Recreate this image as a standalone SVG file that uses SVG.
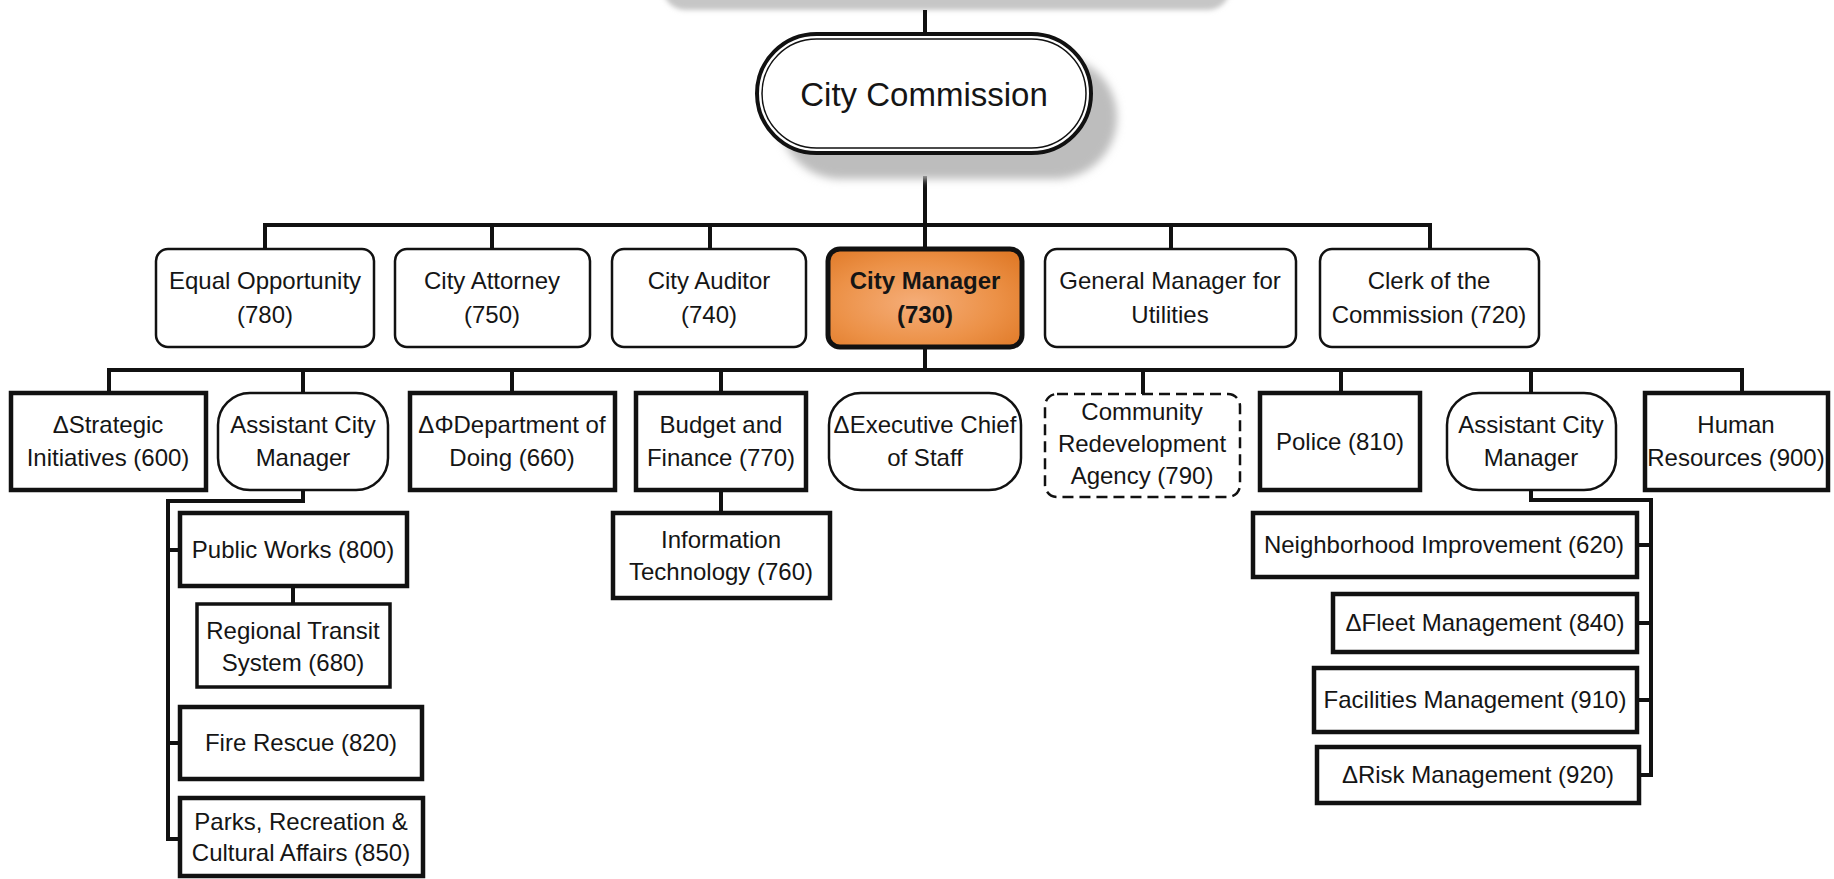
<svg xmlns="http://www.w3.org/2000/svg" width="1834" height="879" viewBox="0 0 1834 879">
<defs>
<style>
.t{font-family:"Liberation Sans",Arial,sans-serif;font-size:24px;fill:#151515;text-anchor:middle}
.b{font-weight:bold}
.rr{fill:#fff;stroke:#111;stroke-width:2.5}
.sq{fill:#fff;stroke:#111;stroke-width:4.5}
.sq3{fill:#fff;stroke:#111;stroke-width:3.5}
.dash{fill:#fff;stroke:#111;stroke-width:2.5;stroke-dasharray:11 6}
.conn{fill:none;stroke:#111;stroke-width:4;stroke-linejoin:miter;stroke-linecap:butt}
</style>
<filter id="blur" x="-20%" y="-40%" width="140%" height="180%"><feGaussianBlur stdDeviation="4"/></filter>
<filter id="blur2" x="-20%" y="-100%" width="140%" height="300%"><feGaussianBlur stdDeviation="2.5"/></filter>
<radialGradient id="orange" cx="0.45" cy="0.55" r="0.7">
<stop offset="0" stop-color="#f5ad78"/>
<stop offset="0.6" stop-color="#ec9147"/>
<stop offset="1" stop-color="#e07a28"/>
</radialGradient>
</defs>
<rect width="1834" height="879" fill="#fff"/>
<rect x="663" y="-50" width="567" height="60" rx="22" fill="#c6c6c6" filter="url(#blur2)"/>

<g id="connectors">
<path class="conn" d="M925 10V33"/>
<path class="conn" d="M925 176V249"/>
<path class="conn" d="M265 249V225H1430V249"/>
<path class="conn" d="M492 225V249M710 225V249M1171 225V249"/>
<path class="conn" d="M925 348V370"/>
<path class="conn" d="M109 393V370H1742V393"/>
<path class="conn" d="M303 370V393M512 370V393M721 370V393M1143 370V394M1341 370V393M1531 370V393"/>
<path class="conn" d="M303 490V501H168V839H180M168 550H180M168 743H180"/>
<path class="conn" d="M293 586V604"/>
<path class="conn" d="M721 490V513"/>
<path class="conn" d="M1531 490V500H1651V775H1639M1651 545H1637M1651 623H1637M1651 700H1637"/>
</g>

<g id="n-commission">
<rect x="779" y="56" width="338" height="123" rx="61.5" fill="#bdbdbd" filter="url(#blur)"/>
<rect x="757" y="34" width="334" height="119" rx="59.5" fill="#fff" stroke="#111" stroke-width="4"/>
<rect x="762" y="39" width="324" height="109" rx="54.5" fill="none" stroke="#111" stroke-width="1.5"/>
<text class="t" x="924" y="106" style="font-size:33px">City Commission</text>
</g>

<g id="n-equal"><rect class="rr" x="156" y="249" width="218" height="98" rx="12"/><text class="t" x="265" y="289">Equal Opportunity</text><text class="t" x="265" y="323">(780)</text></g>
<g id="n-attorney"><rect class="rr" x="395" y="249" width="195" height="98" rx="12"/><text class="t" x="492" y="289">City Attorney</text><text class="t" x="492" y="323">(750)</text></g>
<g id="n-auditor"><rect class="rr" x="612" y="249" width="194" height="98" rx="12"/><text class="t" x="709" y="289">City Auditor</text><text class="t" x="709" y="323">(740)</text></g>
<g id="n-manager"><rect x="828" y="249" width="194" height="98" rx="12" fill="url(#orange)" stroke="#111" stroke-width="5"/><text class="t b" x="925" y="289">City Manager</text><text class="t b" x="925" y="323">(730)</text></g>
<g id="n-gmu"><rect class="rr" x="1045" y="249" width="251" height="98" rx="12"/><text class="t" x="1170" y="289">General Manager for</text><text class="t" x="1170" y="323">Utilities</text></g>
<g id="n-clerk"><rect class="rr" x="1320" y="249" width="219" height="98" rx="12"/><text class="t" x="1429" y="289">Clerk of the</text><text class="t" x="1429" y="323">Commission (720)</text></g>

<g id="n-strategic"><rect class="sq" x="11" y="393" width="195" height="97"/><text class="t" x="108" y="433">ΔStrategic</text><text class="t" x="108" y="466">Initiatives (600)</text></g>
<g id="n-acm-left"><rect class="rr" x="218" y="393" width="170" height="97" rx="32"/><text class="t" x="303" y="433">Assistant City</text><text class="t" x="303" y="466">Manager</text></g>
<g id="n-doing"><rect class="sq" x="410" y="393" width="205" height="97"/><text class="t" x="512" y="433">ΔΦDepartment of</text><text class="t" x="512" y="466">Doing (660)</text></g>
<g id="n-budget"><rect class="sq" x="636" y="393" width="170" height="97"/><text class="t" x="721" y="433">Budget and</text><text class="t" x="721" y="466">Finance (770)</text></g>
<g id="n-chief"><rect class="rr" x="829" y="393" width="192" height="97" rx="32"/><text class="t" x="925" y="433">ΔExecutive Chief</text><text class="t" x="925" y="466">of Staff</text></g>
<g id="n-cra"><rect class="dash" x="1045" y="394" width="195" height="103" rx="12"/><text class="t" x="1142" y="420">Community</text><text class="t" x="1142" y="452">Redevelopment</text><text class="t" x="1142" y="484">Agency (790)</text></g>
<g id="n-police"><rect class="sq" x="1260" y="393" width="160" height="97"/><text class="t" x="1340" y="450">Police (810)</text></g>
<g id="n-acm-right"><rect class="rr" x="1447" y="393" width="169" height="97" rx="32"/><text class="t" x="1531" y="433">Assistant City</text><text class="t" x="1531" y="466">Manager</text></g>
<g id="n-hr"><rect class="sq" x="1645" y="393" width="183" height="97"/><text class="t" x="1736" y="433">Human</text><text class="t" x="1736" y="466">Resources (900)</text></g>

<g id="n-publicworks"><rect class="sq" x="180" y="513" width="227" height="73"/><text class="t" x="293" y="558">Public Works (800)</text></g>
<g id="n-transit"><rect class="sq3" x="197" y="604" width="193" height="83"/><text class="t" x="293" y="639">Regional Transit</text><text class="t" x="293" y="671">System (680)</text></g>
<g id="n-fire"><rect class="sq" x="180" y="707" width="242" height="72"/><text class="t" x="301" y="751">Fire Rescue (820)</text></g>
<g id="n-parks"><rect class="sq" x="180" y="798" width="243" height="78"/><text class="t" x="301" y="830">Parks, Recreation &amp;</text><text class="t" x="301" y="861">Cultural Affairs (850)</text></g>
<g id="n-it"><rect class="sq" x="613" y="513" width="217" height="85"/><text class="t" x="721" y="548">Information</text><text class="t" x="721" y="580">Technology (760)</text></g>

<g id="n-neighborhood"><rect class="sq" x="1253" y="513" width="384" height="64"/><text class="t" x="1444" y="553">Neighborhood Improvement (620)</text></g>
<g id="n-fleet"><rect class="sq" x="1333" y="594" width="304" height="58"/><text class="t" x="1485" y="631">ΔFleet Management (840)</text></g>
<g id="n-facilities"><rect class="sq" x="1314" y="668" width="323" height="64"/><text class="t" x="1475" y="708">Facilities Management (910)</text></g>
<g id="n-risk"><rect class="sq" x="1317" y="747" width="322" height="56"/><text class="t" x="1478" y="783">ΔRisk Management (920)</text></g>
</svg>
